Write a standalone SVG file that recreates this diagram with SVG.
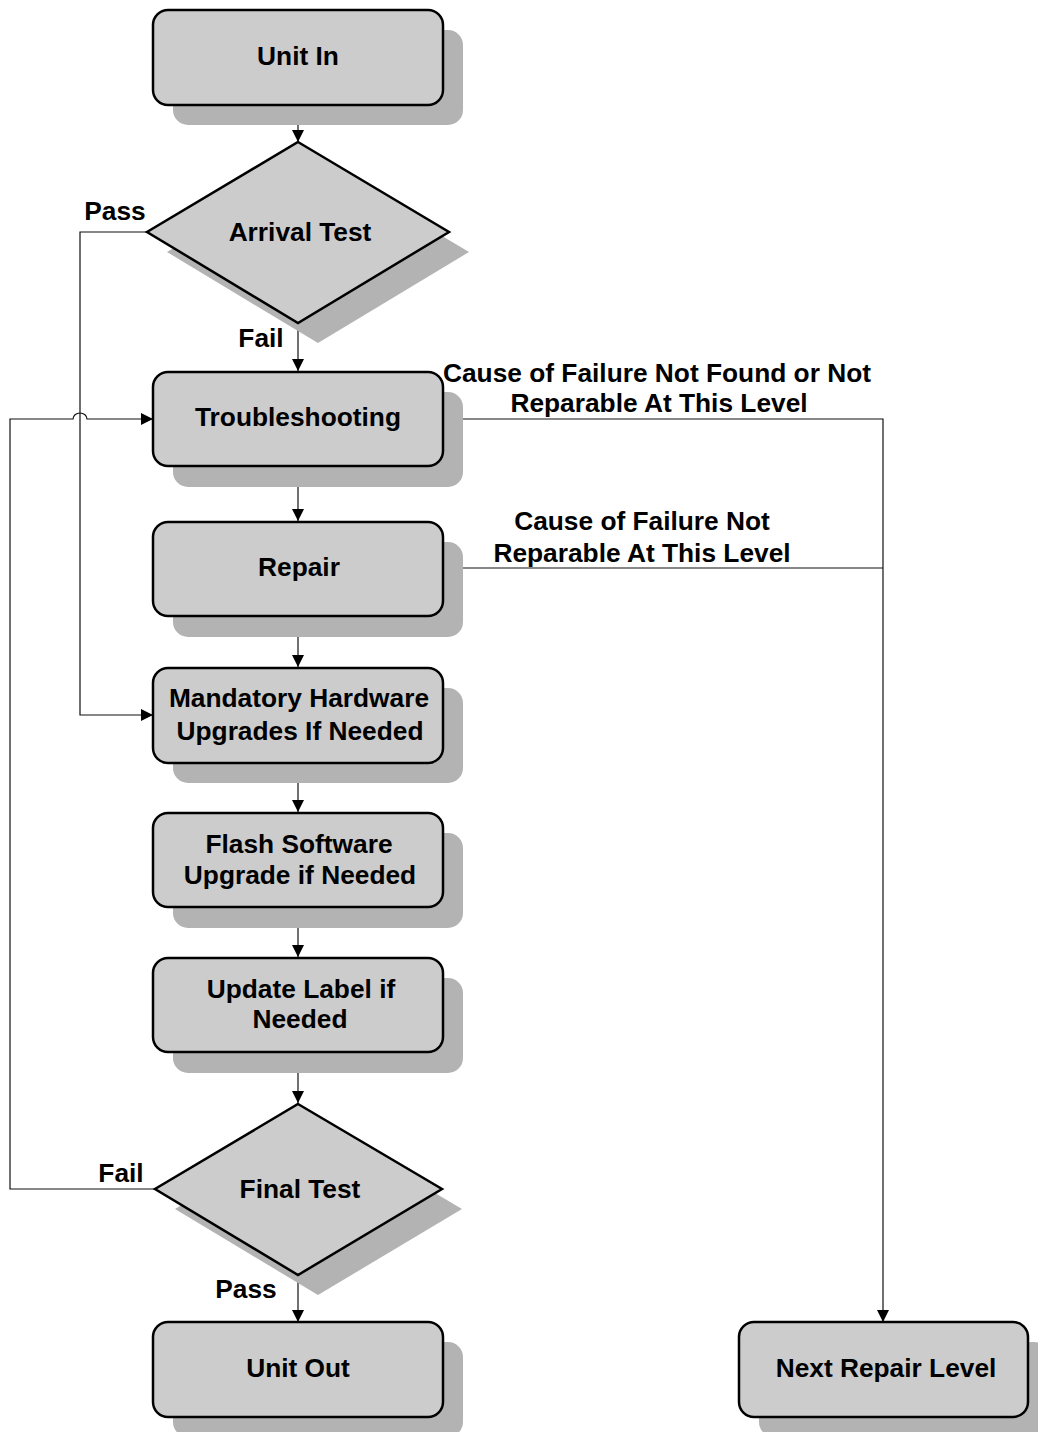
<svg xmlns="http://www.w3.org/2000/svg" width="1038" height="1432" viewBox="0 0 1038 1432">
<style>
.sh{fill:#b3b3b3;stroke:none}
.bx{fill:#cccccc;stroke:#000;stroke-width:2.5}
.t{font-family:"Liberation Sans",Arial,sans-serif;font-weight:bold;font-size:26.3px;fill:#000;text-anchor:middle}
.c{fill:none;stroke:#111;stroke-width:1.2}
</style>
<defs>
<marker id="ar" markerUnits="userSpaceOnUse" markerWidth="12" markerHeight="12" refX="12" refY="6" orient="auto">
<path d="M0,0 L12,6 L0,12 z" fill="#000"/>
</marker>
</defs>
<rect width="1038" height="1432" fill="#fff"/>
<g id="connectors">
<path class="c" d="M298,105 V142" marker-end="url(#ar)"/>
<path class="c" d="M298,323 V371" marker-end="url(#ar)"/>
<path class="c" d="M147,232 H80 V715 H153" marker-end="url(#ar)"/>
<path class="c" d="M298,466 V521" marker-end="url(#ar)"/>
<path class="c" d="M298,616 V667" marker-end="url(#ar)"/>
<path class="c" d="M298,763 V812" marker-end="url(#ar)"/>
<path class="c" d="M298,907 V957" marker-end="url(#ar)"/>
<path class="c" d="M298,1052 V1103" marker-end="url(#ar)"/>
<path class="c" d="M298,1275 V1322" marker-end="url(#ar)"/>
<path class="c" d="M155,1189 H10 V419 H73 A7,6 0 0 1 87,419 H153" marker-end="url(#ar)"/>
<path class="c" d="M443,419 H883 V1322" marker-end="url(#ar)"/>
<path class="c" d="M443,568 H883"/>
<text class="t" x="115" y="220">Pass</text>
<text class="t" x="261" y="347">Fail</text>
<text class="t" x="657" y="382">Cause of Failure Not Found or Not</text>
<text class="t" x="659" y="412">Reparable At This Level</text>
<text class="t" x="642" y="530">Cause of Failure Not</text>
<text class="t" x="642" y="562">Reparable At This Level</text>
<text class="t" x="121" y="1182">Fail</text>
<text class="t" x="246" y="1298">Pass</text>
</g>
<g id="unit-in">
<rect class="sh" x="173" y="30" width="290" height="95" rx="15"/>
<rect class="bx" x="153" y="10" width="290" height="95" rx="15"/>
<text class="t" x="298" y="65">Unit In</text>
</g>
<g id="arrival-test">
<polygon class="sh" points="318,162 469,252 318,343 167,252"/>
<polygon class="bx" points="298,142 449,232 298,323 147,232"/>
<text class="t" x="300" y="241">Arrival Test</text>
</g>
<g id="troubleshooting">
<rect class="sh" x="173" y="392" width="290" height="95" rx="15"/>
<rect class="bx" x="153" y="372" width="290" height="94" rx="15"/>
<text class="t" x="298" y="426">Troubleshooting</text>
</g>
<g id="repair">
<rect class="sh" x="173" y="542" width="290" height="95" rx="15"/>
<rect class="bx" x="153" y="522" width="290" height="94" rx="15"/>
<text class="t" x="299" y="576">Repair</text>
</g>
<g id="mandatory-hw">
<rect class="sh" x="173" y="688" width="290" height="95" rx="15"/>
<rect class="bx" x="153" y="668" width="290" height="95" rx="15"/>
<text class="t" x="299" y="707">Mandatory Hardware</text>
<text class="t" x="300" y="740">Upgrades If Needed</text>
</g>
<g id="flash-sw">
<rect class="sh" x="173" y="833" width="290" height="95" rx="15"/>
<rect class="bx" x="153" y="813" width="290" height="94" rx="15"/>
<text class="t" x="299" y="853">Flash Software</text>
<text class="t" x="300" y="884">Upgrade if Needed</text>
</g>
<g id="update-label">
<rect class="sh" x="173" y="978" width="290" height="95" rx="15"/>
<rect class="bx" x="153" y="958" width="290" height="94" rx="15"/>
<text class="t" x="301" y="998">Update Label if</text>
<text class="t" x="300" y="1028">Needed</text>
</g>
<g id="final-test">
<polygon class="sh" points="318,1124 462,1209 318,1295 175,1209"/>
<polygon class="bx" points="298,1104 442,1189 298,1275 155,1189"/>
<text class="t" x="300" y="1198">Final Test</text>
</g>
<g id="unit-out">
<rect class="sh" x="173" y="1342" width="290" height="95" rx="15"/>
<rect class="bx" x="153" y="1322" width="290" height="95" rx="15"/>
<text class="t" x="298" y="1377">Unit Out</text>
</g>
<g id="next-repair-level">
<rect class="sh" x="759" y="1342" width="290" height="95" rx="15"/>
<rect class="bx" x="739" y="1322" width="289" height="95" rx="15"/>
<text class="t" x="886" y="1377">Next Repair Level</text>
</g>
</svg>
